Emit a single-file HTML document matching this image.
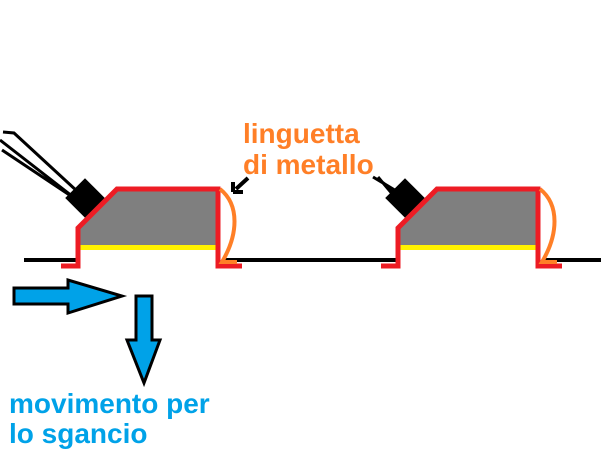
<!DOCTYPE html>
<html><head><meta charset="utf-8"><style>
html,body{margin:0;padding:0;background:#fff;width:601px;height:466px;overflow:hidden}
svg{display:block}
text{font-family:"Liberation Sans",Arial,sans-serif;font-weight:bold;font-size:28px}
</style></head><body>
<svg width="601" height="466" viewBox="0 0 601 466">
<g stroke="#000" stroke-width="4" fill="none">
<line x1="24" y1="260" x2="76" y2="260"/>
<line x1="222" y1="260" x2="396" y2="260"/>
<line x1="542" y1="260" x2="601" y2="260"/>
</g>
<g id="s">
<polygon points="79,247 79,229 117,191 216,191 216,250 79,250" fill="#7f7f7f"/>
<rect x="79" y="245" width="137" height="5" fill="#fff200"/>
<rect x="71" y="184" width="28" height="28" fill="#000" transform="rotate(45 85 198)"/>
<path d="M61,266 L78,266 L78,228 L117,189 L218,189 L218,266 L242,266" stroke="#ed1c24" stroke-width="5" fill="none"/>
<path d="M220,189 C240,205 238,235 222,262 L237,262" stroke="#ff7f27" stroke-width="4" fill="none"/>
</g>
<path d="M3,132 L14,133 L78,192 M0,140 L72,196 M2,150 L74,198" stroke="#000" stroke-width="3" fill="none"/>
<use href="#s" transform="translate(320,0)"/>
<path d="M373,177 L398,192 M378,177 L394,196 M382,182 L398,194" stroke="#000" stroke-width="3" fill="none"/>
<path d="M248,178 L236,189 M233,192 L233,182 M233,192 L243,192" stroke="#000" stroke-width="4" fill="none"/>
<path d="M14,288 L68,288 L68,280 L122,296 L68,313 L68,304 L14,304 Z" fill="#00a2e8" stroke="#000" stroke-width="3"/>
<path d="M136,296 L152,296 L152,340 L160,340 L144,383 L127,340 L136,340 Z" fill="#00a2e8" stroke="#000" stroke-width="3"/>
<text x="243" y="143" fill="#ff7f27">linguetta</text>
<text x="243" y="174" fill="#ff7f27">di metallo</text>
<text x="9" y="413" fill="#00a2e8">movimento per</text>
<text x="9" y="443" fill="#00a2e8">lo sgancio</text>
</svg>
</body></html>
